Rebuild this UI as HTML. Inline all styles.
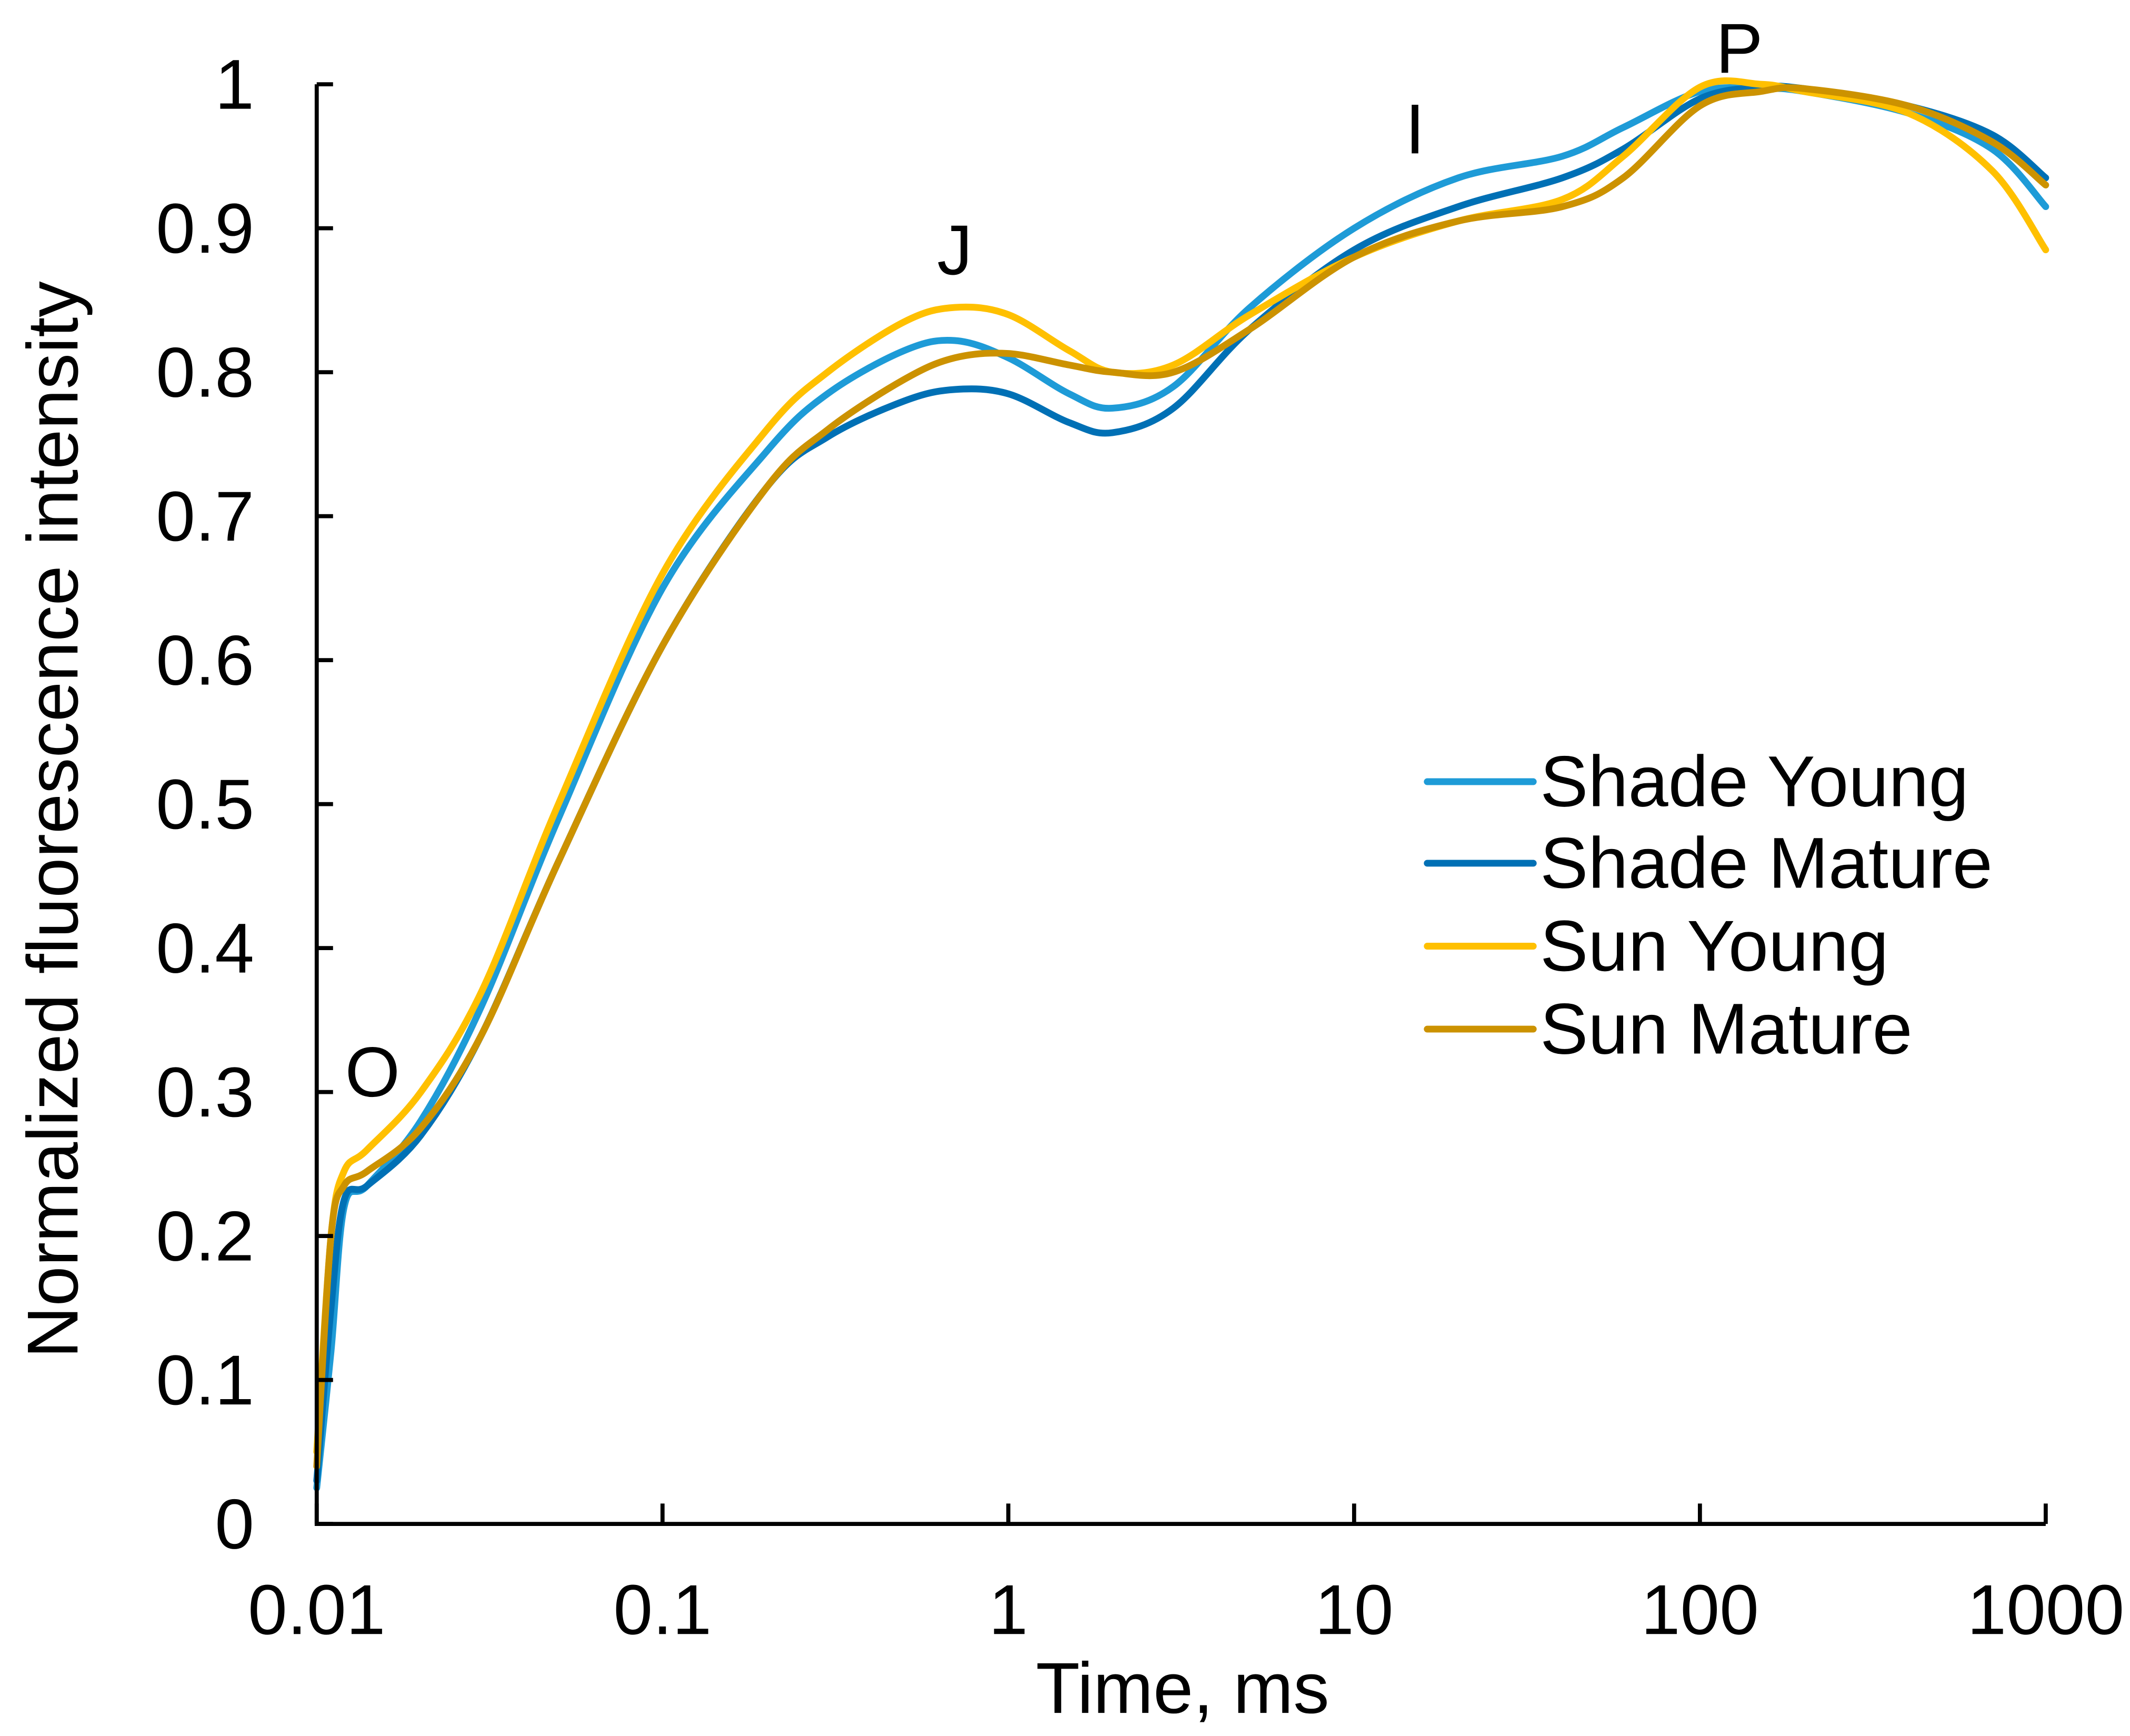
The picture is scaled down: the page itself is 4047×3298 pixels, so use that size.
<!DOCTYPE html>
<html><head><meta charset="utf-8"><style>
html,body{margin:0;padding:0;background:#fff;}
svg{display:block;}
text{font-family:"Liberation Sans",Arial,sans-serif;fill:#000;}
</style></head><body>
<svg id="chart" width="4047" height="3298" viewBox="0 0 1567 1277" xmlns="http://www.w3.org/2000/svg">
<g id="series"></g>
<g id="axes"></g>
<g id="labels"></g>
</svg>
<script>
const xTicks = [0.01, 0.1, 1, 10, 100, 1000];
const xTickLabels = ["0.01", "0.1", "1", "10", "100", "1000"];
const yTicks = [0, 0.1, 0.2, 0.3, 0.4, 0.5, 0.6, 0.7, 0.8, 0.9, 1];
const yTickLabels = ["0", "0.1", "0.2", "0.3", "0.4", "0.5", "0.6", "0.7", "0.8", "0.9", "1"];
const seriesNames = ["Shade Young", "Shade Mature", "Sun Young", "Sun Mature"];
const seriesColors = ["#1E9BD7", "#0070B5", "#FFC000", "#CC9200"];
const times = [0.01, 0.011, 0.012, 0.014, 0.02, 0.03, 0.05, 0.1, 0.2, 0.3, 0.5, 0.7, 1, 1.5, 2, 3, 5, 10, 20, 40, 60, 100, 150, 200, 400, 700, 1000];
const shadeYoung = [0.025, 0.12, 0.22, 0.235, 0.28, 0.36, 0.49, 0.65, 0.745, 0.785, 0.815, 0.822, 0.81, 0.785, 0.775, 0.79, 0.845, 0.90, 0.935, 0.95, 0.97, 0.995, 0.997, 0.995, 0.98, 0.955, 0.915];
const shadeMature = [0.03, 0.15, 0.225, 0.235, 0.27, 0.34, 0.46, 0.61, 0.72, 0.755, 0.78, 0.788, 0.785, 0.765, 0.758, 0.775, 0.83, 0.885, 0.915, 0.935, 0.955, 0.99, 0.998, 0.997, 0.985, 0.965, 0.935];
const sunYoung = [0.05, 0.2, 0.245, 0.26, 0.30, 0.37, 0.50, 0.66, 0.76, 0.80, 0.835, 0.845, 0.84, 0.815, 0.80, 0.805, 0.84, 0.88, 0.905, 0.92, 0.95, 0.998, 1.0, 0.995, 0.98, 0.94, 0.885];
const sunMature = [0.04, 0.2, 0.235, 0.245, 0.275, 0.34, 0.46, 0.61, 0.72, 0.76, 0.795, 0.81, 0.813, 0.805, 0.80, 0.80, 0.83, 0.88, 0.905, 0.915, 0.935, 0.985, 0.995, 0.997, 0.985, 0.96, 0.93];
const allSeries = [shadeYoung, shadeMature, sunYoung, sunMature];
const phaseLabels = ["O", "J", "I", "P"];
const phaseTimes = [0.0145, 0.7, 15, 130];
const phaseValues = [0.297, 0.868, 0.952, 1.008];

const NS = "http://www.w3.org/2000/svg";
const X0 = 233, X1 = 1505, Y0 = 1121, Y1 = 62;
function xs(t){ return X0 + (Math.log10(t) + 2) / 5 * (X1 - X0); }
function ys(v){ return Y0 - v * (Y0 - Y1); }
function mk(tag, attrs, parent){ const e = document.createElementNS(NS, tag); for (const k in attrs) e.setAttribute(k, attrs[k]); parent.appendChild(e); return e; }

const gS = document.getElementById('series'), gA = document.getElementById('axes'), gL = document.getElementById('labels');

function pathFor(vals){
  const pts = times.map((t, i) => [xs(t), ys(vals[i])]);
  let d = "M" + pts[0][0] + "," + pts[0][1];
  for (let i = 0; i < pts.length - 1; i++){
    const p0 = pts[Math.max(0, i - 1)], p1 = pts[i], p2 = pts[i + 1], p3 = pts[Math.min(pts.length - 1, i + 2)];
    const c1x = p1[0] + (p2[0] - p0[0]) / 6, c1y = p1[1] + (p2[1] - p0[1]) / 6;
    const c2x = p2[0] - (p3[0] - p1[0]) / 6, c2y = p2[1] - (p3[1] - p1[1]) / 6;
    d += " C" + c1x + "," + c1y + " " + c2x + "," + c2y + " " + p2[0] + "," + p2[1];
  }
  return d;
}
allSeries.forEach((vals, i) => {
  const p = mk('path', {d: pathFor(vals), fill: 'none', stroke: seriesColors[i], 'stroke-width': 5, 'stroke-linejoin': 'round', 'stroke-linecap': 'round'}, gS);
  
  
});

const ax = mk('path', {d: `M${X0},${Y1} L${X0},${Y0} L${X1},${Y0}`, fill: 'none', stroke: '#000', 'stroke-width': 3}, gA);


yTicks.forEach((v, i) => {
  const y = ys(v);
  const tk = mk('line', {x1: X0, x2: X0 + 12, y1: y, y2: y, stroke: '#000', 'stroke-width': 3}, gA);
  
  
  const tx = mk('text', {x: 187, y: y + 18, 'text-anchor': 'end', 'font-size': 52}, gL);
  tx.textContent = yTickLabels[i];
  
  
});
xTicks.forEach((t, i) => {
  const x = xs(t);
  const tk = mk('line', {x1: x, x2: x, y1: Y0, y2: Y0 - 15, stroke: '#000', 'stroke-width': 3}, gA);
  
  
  const tx = mk('text', {x: x, y: 1202, 'text-anchor': 'middle', 'font-size': 52}, gL);
  tx.textContent = xTickLabels[i];
  
  
});
const xt = mk('text', {x: 870, y: 1260, 'text-anchor': 'middle', 'font-size': 53}, gL);
xt.textContent = "Time, ms";


const yt = mk('text', {x: 0, y: 0, 'text-anchor': 'middle', 'font-size': 53, transform: 'translate(57,603) rotate(-90)'}, gL);
yt.textContent = "Normalized fluorescence intensity";



phaseLabels.forEach((s, i) => {
  const tx = mk('text', {x: xs(phaseTimes[i]), y: ys(phaseValues[i]), 'text-anchor': 'middle', 'font-size': 52}, gL);
  tx.textContent = s;
  
  
});

const legendY = [575, 635, 696, 757];
seriesNames.forEach((n, i) => {
  const g = mk('g', {}, gL);
  
  
  const ln = mk('line', {x1: 1050, x2: 1128, y1: legendY[i], y2: legendY[i], stroke: seriesColors[i], 'stroke-width': 5, 'stroke-linecap': 'round'}, g);
  
  
  const tx = mk('text', {x: 1133, y: legendY[i] + 18, 'font-size': 53}, g);
  tx.textContent = n;
  
  
});
</script>
</body></html>
